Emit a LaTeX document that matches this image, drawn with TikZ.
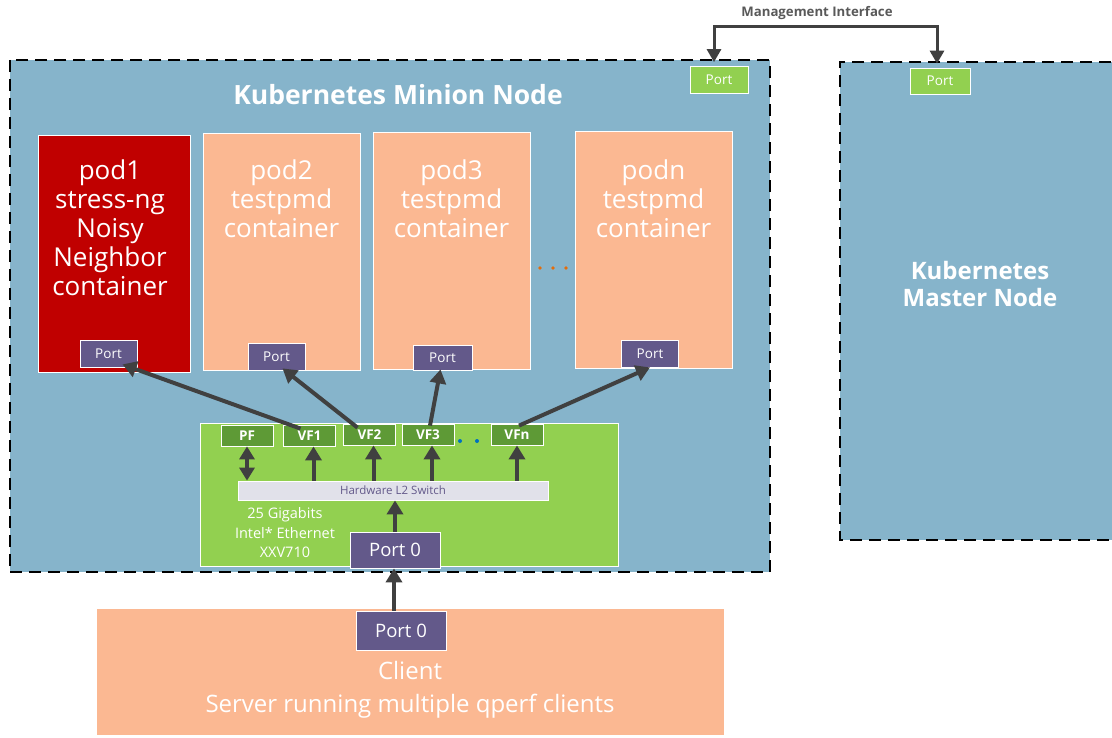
\documentclass[tikz,border=0pt]{standalone}
\usepackage{fontspec}
\setmainfont{Open Sans}
\usepackage{tikz}
\usetikzlibrary{arrows.meta,positioning}
\definecolor{hostblue}{HTML}{86B4CB}
\definecolor{podpeach}{HTML}{FBB892}
\definecolor{noisyred}{HTML}{C00000}
\definecolor{portpurple}{HTML}{63598A}
\definecolor{nicgreen}{HTML}{92D050}
\definecolor{vfgreen}{HTML}{5E9A36}
\definecolor{switchgray}{HTML}{E1E1EA}
\definecolor{arrowgray}{HTML}{404040}
\definecolor{mgmtgray}{HTML}{595959}
\definecolor{dotorange}{HTML}{E46C0A}
\definecolor{dotblue}{HTML}{0070C0}
\tikzset{
  hostbox/.style={
    fill=hostblue, inner sep=0pt},
  hostborder/.style={
    draw=black, line width=2.5pt, dash pattern=on 12pt off 7pt},
  podbox/.style={
    draw=white, line width=0.8pt, fill=podpeach, inner sep=0pt,
    minimum width=157pt, minimum height=237pt},
  podtext/.style={
    text=white, align=center, font=\fontsize{26}{29}\selectfont},
  portbox/.style={
    draw=white, line width=0.8pt, fill=portpurple, text=white, inner sep=0pt,
    font=\fontsize{13.5}{15}\selectfont, minimum width=57pt, minimum height=27pt},
  mgmtport/.style={
    portbox, fill=nicgreen, minimum width=58pt, minimum height=27pt},
  bigport/.style={
    portbox, font=\fontsize{18.5}{21}\selectfont,
    minimum width=90pt, minimum height=37pt},
  vfbox/.style={
    draw=white, line width=0.8pt, fill=vfgreen, text=white, inner sep=0pt,
    font=\fontsize{13.5}{15}\selectfont\bfseries, minimum width=52pt, minimum height=21pt},
  linkarrow/.style={
    -{Triangle[length=14pt,width=16pt]}, line width=4pt, draw=arrowgray},
  mgmtarrow/.style={
    -{Triangle[length=13pt,width=14pt]}, line width=3pt, draw=arrowgray},
  nictext/.style={text=white, align=center, font=\fontsize{14.5}{19.5}\selectfont},
}

\begin{document}
\begin{tikzpicture}[x=1pt, y=-1pt]
  \useasboundingbox (0,0) rectangle (1112,737);
  \fill[white] (0,0) rectangle (1112,737);

  % hosts
  \node[hostbox, minimum width=760pt, minimum height=512pt] (minion) at (390,316) {};
  \draw[hostborder] (minion.north west) rectangle (minion.south east);
  \node[hostbox, minimum width=290pt, minimum height=478pt] (master) at (985,301) {};
  \draw[hostborder] (master.north east) -- (master.north west)
    -- (master.south west) -- (master.south east);
  \node[text=white, font=\fontsize{26.5}{30}\selectfont\bfseries] (mtitle) at (398,95)
    {Kubernetes Minion Node};
  \node[text=white, align=center, font=\fontsize{24}{27}\selectfont\bfseries] (stitle)
    at (980,284) {Kubernetes\\Master Node};

  % management interface
  \node[mgmtport] (mport) at (719,80) {Port};
  \node[mgmtport, minimum width=60pt, minimum height=26pt] (sport) at (940,81) {Port};
  \node[text=mgmtgray, font=\fontsize{13.2}{15}\selectfont\bfseries] (mgmt) at (817,13)
    {Management Interface};
  \coordinate (mgmid) at (825,26);
  \draw[mgmtarrow, shorten >=4pt] (mgmid) -| ([xshift=-5pt]mport.north);
  \draw[mgmtarrow, shorten >=4pt] (mgmid) -| ([xshift=-3pt]sport.north);

  % pods
  \node[podbox, fill=noisyred, minimum width=152pt] (pod1) at (114,253.5) {};
  \node[podbox] (pod2) at (281.5,251.5) {};
  \node[podbox] (pod3) at (451.5,250.5) {};
  \node[podbox] (podn) at (653.5,249.5) {};
  \node[podtext] (t1) at (110,228) {pod1\\stress-ng\\Noisy\\Neighbor\\container};
  \node[podtext] (t2) at (281.5,199) {pod2\\testpmd\\container};
  \node[podtext] (t3) at (451.5,199) {pod3\\testpmd\\container};
  \node[podtext] (tn) at (653.5,199) {podn\\testpmd\\container};
  \foreach \x in {540,553,566}
    \fill[dotorange] (\x,268) circle (1.8);
  \node[portbox] (p1) at (108.5,353.5) {Port};
  \node[portbox] (p2) at (276.5,356.5) {Port};
  \node[portbox, minimum width=59pt, minimum height=25pt] (p3) at (442.5,357.5) {Port};
  \node[portbox] (pn) at (650,353.5) {Port};

  % NIC
  \node[draw=white, line width=0.8pt, fill=nicgreen, minimum width=418pt,
        minimum height=143pt, inner sep=0pt] (nic) at (409,494.5) {};
  \node[vfbox] (pf)  at (247,435.5)   {PF};
  \node[vfbox] (vf1) at (309.5,435.5) {VF1};
  \node[vfbox] (vf2) at (369.5,434.5) {VF2};
  \node[vfbox] (vf3) at (428,434.5)   {VF3};
  \node[vfbox] (vfn) at (517,434.5)   {VFn};
  \foreach \x in {460,477}
    \fill[dotblue] (\x,441) circle (2);
  \node[draw=white, line width=0.8pt, fill=switchgray, text=portpurple,
        minimum width=310pt, minimum height=19pt, inner sep=0pt,
        font=\fontsize{11.5}{13}\selectfont] (sw) at (393,490.5) {Hardware L2 Switch};
  \node[nictext] (nicname) at (285,533) {25 Gigabits\\Intel* Ethernet\\XXV710};
  \node[bigport, minimum height=36pt] (nicp) at (395,550) {Port 0};

  \draw[linkarrow, {Triangle[length=13pt,width=15pt]}-{Triangle[length=13pt,width=15pt]}]
    (pf.south) -- (sw.north -| pf.south);
  \foreach \v in {vf1,vf2,vf3}
    \draw[linkarrow] ([xshift=4pt]sw.north -| \v.south) -- ([xshift=4pt]\v.south);
  \draw[linkarrow] (sw.north -| vfn.south) -- (vfn.south);
  \draw[linkarrow] (nicp.north) -- (sw.south -| nicp.north);

  % VFs to pods
  \draw[linkarrow] ([xshift=-9pt,yshift=-4pt]vf1.north) -- ([xshift=14pt,yshift=3pt]p1.south);
  \draw[linkarrow] ([xshift=-12pt,yshift=-4pt]vf2.north) -- ([xshift=6pt,yshift=2pt]p2.south);
  \draw[linkarrow] ([xshift=2pt,yshift=-2pt]vf3.north) -- ([xshift=-2pt,yshift=1pt]p3.south);
  \draw[linkarrow] ([xshift=2pt,yshift=-2pt]vfn.north) -- (pn.south);

  % client
  \node[draw=white, line width=0.8pt, fill=podpeach, minimum width=628pt,
        minimum height=127pt, inner sep=0pt] (client) at (410,671.5) {};
  \node[bigport, minimum height=39pt] (cp) at (401,630.5) {Port 0};
  \node[text=white, align=center, font=\fontsize{24}{33}\selectfont] (ctext) at (410,690)
    {Client\\Server running multiple qperf clients};
  \draw[linkarrow] ([xshift=-7pt]cp.north) -- ([xshift=-1pt]nicp.south);
\end{tikzpicture}
\end{document}
